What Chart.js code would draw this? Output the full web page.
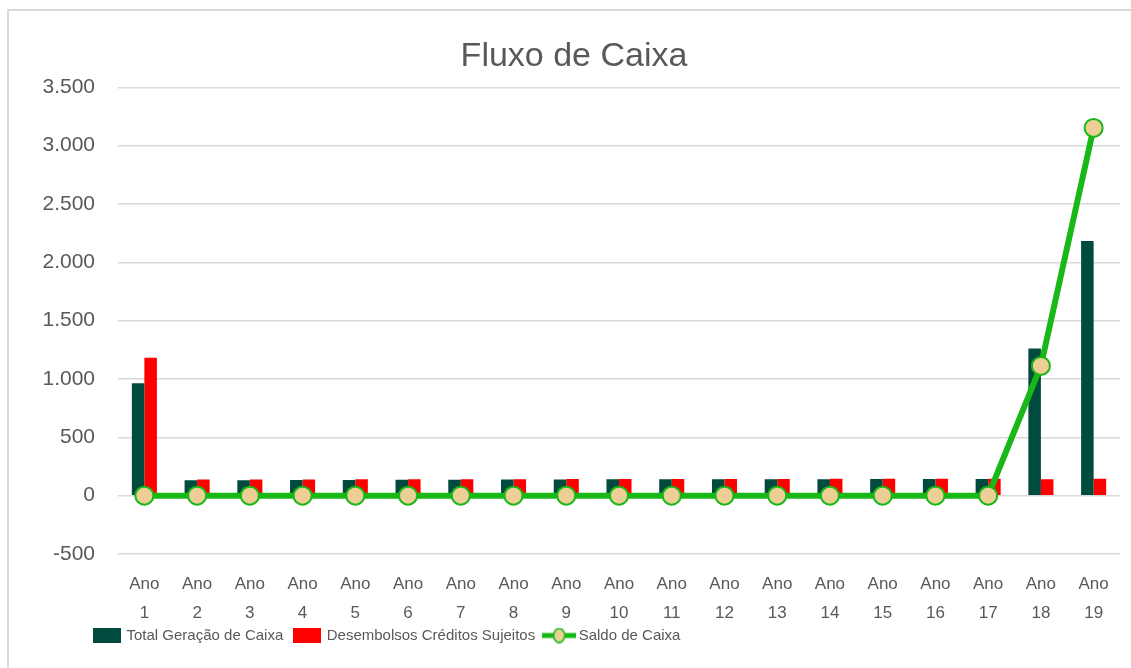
<!DOCTYPE html>
<html>
<head>
<meta charset="utf-8">
<script src="https://cdn.jsdelivr.net/npm/chart.js@4/dist/chart.umd.min.js"></script>
<style>
  html, body { margin: 0; padding: 0; background: #fff; }
  #wrap { position: relative; width: 1131px; height: 668px; overflow: hidden; }
  #frame { position: absolute; left: 7px; top: 9px; width: 1140px; height: 680px; border: 2px solid #d9d9d9; box-sizing: border-box; }
  #myChart { position: absolute; left: 0; top: 0; }
</style>
</head>
<body>
<div id="wrap">
  <div id="frame"></div>
  <canvas id="myChart" width="1131" height="668"></canvas>
</div>
<script>
// data
var anos = ["1","2","3","4","5","6","7","8","9","10","11","12","13","14","15","16","17","18","19"];
var geracao = [963, 132, 133, 134, 135, 136, 137, 138, 139, 140, 140, 140, 141, 141, 142, 142, 143, 1262, 2182];
var desembolsos = [1182, 138, 139, 139, 140, 140, 141, 141, 142, 142, 143, 143, 143, 144, 144, 145, 145, 140, 145];
var saldo = [0, 0, 0, 0, 0, 0, 0, 0, 0, 0, 0, 0, 0, 0, 0, 0, 0, 1112, 3152];
var serieNomes = ["Total Geração de Caixa", "Desembolsos Créditos Sujeitos", "Saldo de Caixa"];

var corGeracao = "#004A3E";
var corDesemb = "#FF0000";
var corSaldo = "#17B817";
var corMarcador = "#EDCF96";
var cinza = "#595959";
var fonte = "'Liberation Sans', Arial, sans-serif";

function icone(w, h, desenha) {
    var c = document.createElement("canvas");
    c.width = w; c.height = h;
    desenha(c.getContext("2d"), w, h);
    return c;
}

var icones = [
    icone(28, 15, function (g, w, h) { g.fillStyle = corGeracao; g.fillRect(0, 0, w, h); }),
    icone(28, 15, function (g, w, h) { g.fillStyle = corDesemb; g.fillRect(0, 0, w, h); }),
    icone(34, 16, function (g, w, h) {
        g.strokeStyle = corSaldo; g.lineWidth = 5;
        g.beginPath(); g.moveTo(0, h / 2); g.lineTo(w, h / 2); g.stroke();
        g.beginPath(); g.ellipse(w / 2, h / 2, 5.5, 7, 0, 0, Math.PI * 2);
        g.fillStyle = corMarcador; g.fill();
        g.lineWidth = 1.5; g.stroke();
    })
];

window.onload = function ()
{
    var ctx = document.getElementById("myChart").getContext("2d");
    var labels = anos.map(function (a) { return ["Ano", a]; });

    var chart = new Chart(ctx, {
        data: {
            labels: labels,
            datasets: [{
                type: "bar",
                label: serieNomes[0],
                data: geracao,
                backgroundColor: corGeracao,
                categoryPercentage: 0.475,
                barPercentage: 1.0,
                order: 2
            }, {
                type: "bar",
                label: serieNomes[1],
                data: desembolsos,
                backgroundColor: corDesemb,
                categoryPercentage: 0.475,
                barPercentage: 1.0,
                order: 3
            }, {
                type: "line",
                label: serieNomes[2],
                data: saldo,
                borderColor: corSaldo,
                borderWidth: 6,
                pointRadius: 9,
                pointBackgroundColor: corMarcador,
                pointBorderColor: corSaldo,
                pointBorderWidth: 2,
                tension: 0,
                order: 1
            }]
        },
        options: {
            responsive: false,
            animation: false,
            layout: { padding: { left: 28, right: 11, top: 0, bottom: 0 } },
            plugins: {
                title: {
                    display: true,
                    text: "Fluxo de Caixa",
                    color: cinza,
                    font: { family: fonte, size: 34, weight: "normal", lineHeight: 1.2 },
                    padding: { top: 36, bottom: 10.5 }
                },
                legend: {
                    position: "bottom",
                    align: "start",
                    labels: {
                        usePointStyle: true,
                        pointStyleWidth: 24,
                        color: cinza,
                        padding: 12,
                        font: { family: fonte, size: 15 },
                        generateLabels: function (c) {
                            return c.data.datasets.map(function (ds, i) {
                                return { text: ds.label, pointStyle: icones[i], datasetIndex: i, fontColor: cinza, lineWidth: 0, hidden: false };
                            });
                        }
                    }
                },
                tooltip: { enabled: false }
            },
            scales: {
                x: {
                    grid: { display: false },
                    border: { display: false },
                    ticks: {
                        color: cinza,
                        padding: 7,
                        maxRotation: 0,
                        autoSkip: false,
                        font: { family: fonte, size: 17, lineHeight: 1.75 }
                    },
                    afterFit: function (s) { s.height = 77; }
                },
                y: {
                    min: -500,
                    max: 3500,
                    grid: { color: "#d9d9d9", lineWidth: 1.5, drawTicks: false },
                    border: { display: false },
                    ticks: {
                        stepSize: 500,
                        color: cinza,
                        padding: 23,
                        font: { family: fonte, size: 21 },
                        callback: function (v) { return v.toLocaleString("pt-BR"); }
                    },
                    afterFit: function (s) { s.width = 90; }
                }
            }
        },
        plugins: [{
            id: "legendaPosicao",
            afterLayout: function (c) { c.legend.left = 83; c.legend.top = 616; }
        }]
    });
};
</script>
</body>
</html>
